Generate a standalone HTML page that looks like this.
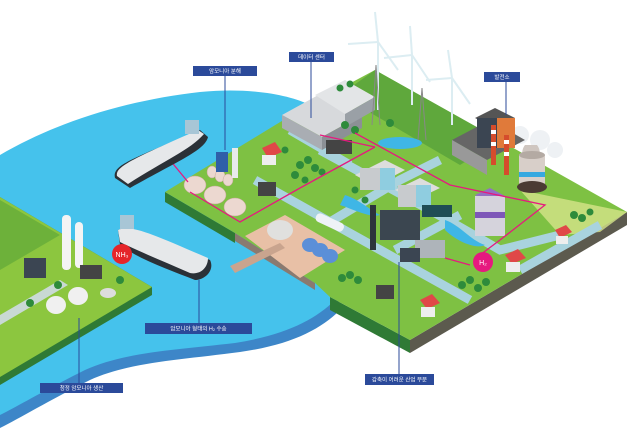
<!DOCTYPE html>
<html><head><meta charset="utf-8"><style>
html,body{margin:0;padding:0;background:#fff;width:640px;height:436px;overflow:hidden}
svg{display:block}
.lb{font-family:"Liberation Sans","Noto Sans CJK KR",sans-serif;font-size:5.5px;fill:#fff;text-anchor:middle}
</style></head><body>
<svg width="640" height="436" viewBox="0 0 640 436" xmlns="http://www.w3.org/2000/svg">
<!-- water -->
<path d="M0,160 C60,125 130,105 200,97 C250,92 290,100 310,110 L340,310 C320,330 290,345 240,352 C180,360 130,362 90,380 C50,400 20,418 0,428 Z" fill="#3d86c8"/>
<path d="M0,155 C60,120 130,100 200,92 C250,87 290,95 310,105 L335,300 C315,320 285,335 235,343 C175,350 125,352 85,370 C45,390 20,405 0,415 Z" fill="#45c2ec"/>
<!-- left land -->
<polygon points="0,197 152,287 152,295 0,385" fill="#2f7a35"/>
<polygon points="0,197 152,287 0,377" fill="#8cc63f"/>
<polygon points="0,200 60,235 0,270" fill="#6db13a"/>
<polygon points="0,315 60,280 68,285 0,325" fill="#c9d9d4"/>
<!-- main island sides -->
<polygon points="410,340 627,212 627,225 410,353" fill="#5c5a4e"/>
<polygon points="330,297 410,340 410,353 330,310" fill="#2f7a35"/>
<polygon points="165,192 235,233 235,243 165,202" fill="#2f7a35"/>
<polygon points="235,233 315,283 315,290 235,241" fill="#8a7a70"/>
<!-- main top -->
<polygon points="165,192 300,110 375,70 627,212 410,340 330,297 315,283 235,233" fill="#7ec143"/>
<polygon points="375,70 500,140 460,165 340,95" fill="#5fa83c"/>
<polygon points="520,190 627,212 600,232 560,235" fill="#d6e38a" opacity=".8"/>
<!-- pier area -->
<polygon points="245,236 285,215 345,250 300,278" fill="#e8c0a6"/>
<polygon points="230,266 280,243 285,248 235,273" fill="#c9a48e"/>
<!-- roads -->
<g stroke="#a9d3de" stroke-width="9" fill="none" stroke-linecap="butt">
<path d="M255,180 L330,222 L470,300"/>
<path d="M320,150 L430,210 L500,250 L560,235"/>
<path d="M330,222 L400,180 L440,160"/>
<path d="M395,250 L460,215"/>
<path d="M290,130 L350,165"/>
<path d="M520,270 L600,225"/>
</g>
<!-- ponds -->
<ellipse cx="400" cy="143" rx="22" ry="6" fill="#3fb6e6"/>
<path d="M345,195 C360,200 370,210 380,215 C370,218 355,210 340,205 Z" fill="#3fb6e6"/>
<path d="M445,220 C460,225 470,240 485,245 C475,250 455,240 445,230 Z" fill="#3fb6e6"/>
<!-- data center -->
<polygon points="282,115 322,93 362,115 322,137" fill="#d7d9dc"/>
<polygon points="282,115 322,137 322,150 282,128" fill="#a9adb3"/>
<polygon points="322,137 362,115 362,128 322,150" fill="#8c9096"/>
<polygon points="315,95 345,80 375,97 345,114" fill="#e3e5e7"/>
<polygon points="345,114 375,97 375,110 345,127" fill="#9aa0a6"/>
<rect x="326" y="140" width="26" height="14" fill="#444"/>
<!-- wind turbines -->
<g stroke="#dcedf2" stroke-width="2" fill="none">
<line x1="378" y1="42" x2="378" y2="110"/><line x1="378" y1="42" x2="375" y2="12"/><line x1="378" y1="42" x2="348" y2="44"/><line x1="378" y1="42" x2="398" y2="70"/>
<line x1="412" y1="55" x2="412" y2="105"/><line x1="412" y1="55" x2="410" y2="26"/><line x1="412" y1="55" x2="384" y2="58"/><line x1="412" y1="55" x2="430" y2="82"/>
<line x1="452" y1="78" x2="452" y2="125"/><line x1="452" y1="78" x2="448" y2="50"/><line x1="452" y1="78" x2="426" y2="80"/><line x1="452" y1="78" x2="470" y2="104"/>
</g>
<g stroke="#888" stroke-width="1" fill="none"><path d="M372,125 L376,65 L380,125"/><path d="M418,140 L422,88 L426,140"/></g>
<!-- smoke -->
<g fill="#eef1f4"><circle cx="520" cy="135" r="9"/><circle cx="540" cy="140" r="10"/><circle cx="555" cy="150" r="8"/></g>
<!-- power plant -->
<polygon points="452,140 490,120 525,140 487,160" fill="#666"/>
<polygon points="452,140 487,160 487,175 452,155" fill="#999"/>
<polygon points="475,118 495,108 515,118 495,128" fill="#555"/>
<rect x="477" y="118" width="20" height="30" fill="#3b4552"/>
<rect x="497" y="118" width="18" height="30" fill="#e07a3a"/>
<rect x="491" y="125" width="5" height="40" fill="#d54c2c"/><rect x="491" y="130" width="5" height="4" fill="#fff"/><rect x="491" y="142" width="5" height="4" fill="#fff"/>
<rect x="504" y="135" width="5" height="40" fill="#d54c2c"/><rect x="504" y="140" width="5" height="4" fill="#fff"/><rect x="504" y="152" width="5" height="4" fill="#fff"/>
<path d="M530,170 C520,160 521,150 525,145 L537,145 C541,150 542,160 532,170 Z" fill="#cfc6c0"/>
<rect x="519" y="155" width="26" height="32" fill="#d8cfc9"/>
<rect x="519" y="172" width="26" height="5" fill="#36a9e0"/>
<ellipse cx="532" cy="187" rx="15" ry="6" fill="#4b3b33"/>
<ellipse cx="532" cy="155" rx="13" ry="4" fill="#b4aaa3"/>
<!-- residential buildings -->
<polygon points="355,175 385,160 405,170 375,186" fill="#ddd"/>
<rect x="360" y="168" width="20" height="22" fill="#c8cbce"/><rect x="380" y="168" width="15" height="22" fill="#8fcde0"/>
<polygon points="395,190 420,178 440,188 415,200" fill="#ddd"/>
<rect x="398" y="185" width="18" height="22" fill="#c8cbce"/><rect x="416" y="185" width="15" height="22" fill="#8fcde0"/>
<!-- industry -->
<rect x="380" y="210" width="40" height="30" fill="#3b4650"/>
<rect x="370" y="205" width="6" height="45" fill="#2c343c"/>
<rect x="415" y="240" width="30" height="18" fill="#aeb4ba"/>
<rect x="400" y="248" width="20" height="14" fill="#3b4552"/>
<rect x="422" y="205" width="30" height="12" fill="#1f4d55"/>
<!-- purple building -->
<polygon points="475,195 490,188 505,196 490,203" fill="#9470c4"/>
<rect x="475" y="196" width="30" height="40" fill="#d5d3dc"/>
<rect x="475" y="212" width="30" height="6" fill="#7e57b8"/>
<!-- storage tanks -->
<g fill="#ecd8d0" stroke="#c7a79b" stroke-width=".5">
<ellipse cx="195" cy="185" rx="11" ry="9"/><ellipse cx="215" cy="195" rx="11" ry="9"/><ellipse cx="235" cy="207" rx="11" ry="9"/>
<ellipse cx="212" cy="172" rx="5" ry="6"/><ellipse cx="220" cy="176" rx="5" ry="6"/><ellipse cx="228" cy="180" rx="5" ry="6"/>
</g>
<rect x="216" y="152" width="12" height="20" fill="#2f5fa8"/>
<rect x="232" y="148" width="6" height="30" fill="#e8eaec"/>
<ellipse cx="280" cy="230" rx="13" ry="10" fill="#e0e0de"/>
<g fill="#5b8fd8"><ellipse cx="310" cy="245" rx="8" ry="7"/><ellipse cx="320" cy="250" rx="8" ry="7"/><ellipse cx="330" cy="256" rx="8" ry="7"/></g>
<rect x="315" y="218" width="30" height="9" rx="4" fill="#eef2f6" transform="rotate(25 330 222)"/>
<!-- houses -->
<g fill="#e04848"><polygon points="262,148 275,142 282,152 268,158"/><polygon points="505,255 518,249 526,258 512,264"/><polygon points="420,300 432,294 440,303 427,309"/><polygon points="555,230 566,225 572,232 560,238"/></g>
<g fill="#eeeeee"><rect x="262" y="155" width="14" height="10"/><rect x="506" y="262" width="14" height="10"/><rect x="421" y="307" width="14" height="10"/><rect x="556" y="236" width="12" height="8"/></g>
<rect x="376" y="285" width="18" height="14" fill="#444"/>
<rect x="258" y="182" width="18" height="14" fill="#444"/>
<!-- trees -->
<g fill="#2e8b3b">
<circle cx="300" cy="165" r="4"/><circle cx="308" cy="160" r="4"/><circle cx="315" cy="168" r="4"/><circle cx="295" cy="175" r="4"/>
<circle cx="285" cy="150" r="3.5"/><circle cx="322" cy="172" r="3.5"/><circle cx="305" cy="180" r="3.5"/>
<circle cx="342" cy="278" r="4"/><circle cx="350" cy="275" r="4"/><circle cx="358" cy="280" r="4"/>
<circle cx="462" cy="285" r="4"/><circle cx="470" cy="280" r="4"/><circle cx="478" cy="288" r="4"/><circle cx="486" cy="282" r="4"/>
<circle cx="574" cy="215" r="4"/><circle cx="582" cy="218" r="4"/><circle cx="590" cy="212" r="3.5"/>
<circle cx="345" cy="125" r="4"/><circle cx="355" cy="130" r="4"/><circle cx="390" cy="123" r="4"/><circle cx="340" cy="88" r="3.5"/><circle cx="350" cy="84" r="3.5"/>
<circle cx="365" cy="200" r="3.5"/><circle cx="355" cy="190" r="3.5"/>
<circle cx="58" cy="285" r="4"/><circle cx="30" cy="303" r="4"/><circle cx="120" cy="280" r="4"/>
</g>
<!-- pink pipelines -->
<g stroke="#e6197f" stroke-width="1.3" fill="none">
<path d="M190,192 L240,222 L300,188 L375,147"/>
<path d="M355,133 L450,185 L545,205 L500,240 L480,255"/>
<path d="M320,135 L375,147"/>
<path d="M470,265 L445,258"/>
<path d="M160,148 L188,182"/>
<path d="M125,255 L148,242"/>
</g>
<!-- left land facilities -->
<rect x="62" y="215" width="9" height="55" rx="4" fill="#f4f4f4"/><rect x="75" y="222" width="8" height="46" rx="4" fill="#f4f4f4"/>
<rect x="24" y="258" width="22" height="20" fill="#3b4552"/>
<rect x="80" y="265" width="22" height="14" fill="#444"/>
<ellipse cx="56" cy="305" rx="10" ry="9" fill="#f0f0f0"/><ellipse cx="78" cy="296" rx="10" ry="9" fill="#f0f0f0"/>
<ellipse cx="108" cy="293" rx="8" ry="5" fill="#ddd"/>
<!-- ships -->
<path d="M115,178 C112,165 130,160 200,130 L208,137 C205,150 180,160 130,188 Z" fill="#2b3137"/>
<path d="M117,176 C115,167 130,160 198,130 L204,134 C190,150 165,160 128,184 Z" fill="#e6e8ea"/>
<rect x="185" y="120" width="14" height="14" fill="#a8c6d6"/>
<path d="M118,230 C130,225 150,235 210,260 C215,270 205,280 195,280 C170,270 140,260 120,245 Z" fill="#2b3137"/>
<path d="M118,230 C130,224 150,233 208,258 C208,268 200,275 190,273 C165,262 140,252 120,242 Z" fill="#e6e8ea"/>
<rect x="120" y="215" width="14" height="14" fill="#a8c6d6"/>
<!-- circles -->
<circle cx="122" cy="254" r="10" fill="#e5252a"/>
<text x="122" y="257" font-family="Liberation Sans,sans-serif" font-size="7" fill="#fff" text-anchor="middle">NH₃</text>
<circle cx="483" cy="262" r="10" fill="#e6197f"/>
<text x="483" y="265" font-family="Liberation Sans,sans-serif" font-size="7" fill="#fff" text-anchor="middle">H₂</text>
<!-- leader lines -->
<g stroke="#2b4a9a" stroke-width="1">
<line x1="225" y1="76" x2="225" y2="150"/>
<line x1="311" y1="62" x2="311" y2="118"/>
<line x1="506" y1="82" x2="506" y2="115"/>
<line x1="199" y1="323" x2="199" y2="280"/>
<line x1="79" y1="383" x2="79" y2="318"/>
<line x1="399" y1="374" x2="399" y2="262"/>
</g>
<!-- labels -->
<g fill="#2b4a9a">
<rect x="193" y="66" width="64" height="10"/>
<rect x="289" y="52" width="45" height="10"/>
<rect x="484" y="72" width="36" height="10"/>
<rect x="145" y="323" width="107" height="11"/>
<rect x="40" y="383" width="83" height="10"/>
<rect x="365" y="374" width="69" height="11"/>
</g>
<text class="lb" x="225" y="73">암모니아 분해</text>
<text class="lb" x="311.5" y="59">데이터 센터</text>
<text class="lb" x="502" y="79">발전소</text>
<text class="lb" x="198.5" y="330.5">암모니아 형태의 H₂ 수송</text>
<text class="lb" x="81.5" y="390">청정 암모니아 생산</text>
<text class="lb" x="399.5" y="381.5">감축이 어려운 산업 부문</text>
</svg>
</body></html>
